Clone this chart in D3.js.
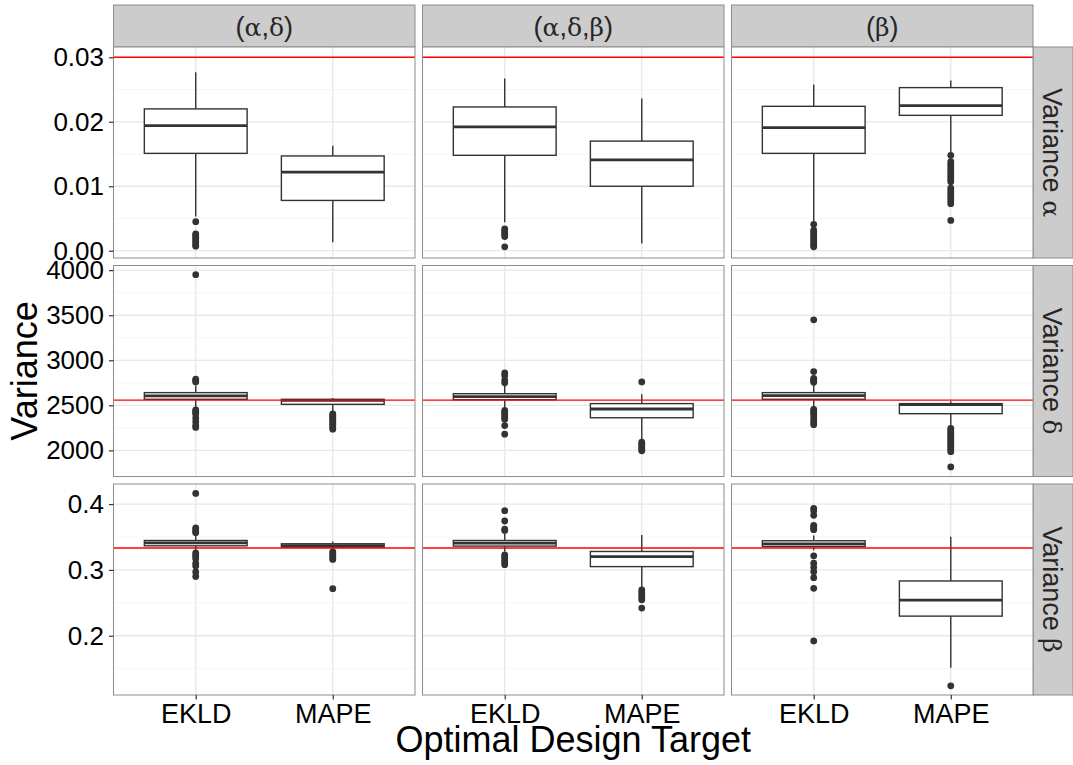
<!DOCTYPE html>
<html>
<head>
<meta charset="utf-8">
<script src="https://cdn.jsdelivr.net/npm/d3@7"></script>
<style>
  body { margin: 0; background: #fff; }
  svg { display: block; }
</style>
</head>
<body>
<svg id="chart" width="1073" height="765"></svg>
<script>
// facet columns / rows
var designs = ["(α,δ)", "(α,δ,β)", "(β)"];
var targets = ["EKLD", "MAPE"];
var rowNames = ["Variance", "Variance", "Variance"];
var rowGreek = ["α", "δ", "β"];
var trueValues = [0.03, 2558, 0.3333];

// y axes per row
var yDomains = [[-0.00113, 0.0316], [1710, 4052], [0.110, 0.4305]];
var yTicks = [[0, 0.01, 0.02, 0.03], [2000, 2500, 3000, 3500, 4000], [0.2, 0.3, 0.4]];
var yTickLabels = [["0.00", "0.01", "0.02", "0.03"], ["2000", "2500", "3000", "3500", "4000"], ["0.2", "0.3", "0.4"]];
var yMinor = [[0.005, 0.015, 0.025], [1750, 2250, 2750, 3250, 3750], [0.15, 0.25, 0.35]];

// [lower whisker, q1, median, q3, upper whisker] for each design -> [EKLD, MAPE]
var alphaBoxes = [
  [[0.0053, 0.0151, 0.0194, 0.0220, 0.0277], [0.0013, 0.0078, 0.0122, 0.0147, 0.0163]],
  [[0.0044, 0.0148, 0.0192, 0.0223, 0.0267], [0.0011, 0.0100, 0.0141, 0.0170, 0.0236]],
  [[0.0044, 0.0151, 0.0191, 0.0224, 0.0258], [0.0151, 0.0210, 0.0225, 0.0253, 0.0264]]
];
var alphaOutliers = [
  [[0.0045, 0.0026, 0.0024, 0.0021, 0.0018, 0.0015, 0.0012, 0.0009, 0.0007], []],
  [[0.0034, 0.0031, 0.0028, 0.0025, 0.0022, 0.0006], []],
  [[0.0041, 0.0032, 0.0029, 0.0026, 0.0023, 0.0020, 0.0017, 0.0014, 0.0011, 0.0008, 0.0006],
   [0.0148, 0.0138, 0.0134, 0.0130, 0.0126, 0.0122, 0.0118, 0.0114, 0.0110, 0.0107,
    0.0097, 0.0093, 0.0089, 0.0085, 0.0081, 0.0077, 0.0073, 0.0047]]
];
var deltaBoxes = [
  [[2480, 2567, 2604, 2641, 2720], [2430, 2511, 2556, 2567, 2581]],
  [[2480, 2562, 2596, 2629, 2720], [2110, 2362, 2459, 2519, 2623]],
  [[2470, 2567, 2608, 2641, 2730], [2262, 2407, 2507, 2519, 2545]]
];
var deltaOutliers = [
  [[3950, 2790, 2775, 2760, 2450, 2435, 2420, 2405, 2360, 2320, 2280, 2255],
   [2405, 2390, 2375, 2360, 2345, 2330, 2310, 2290, 2270, 2250, 2235]],
  [[2860, 2830, 2780, 2750, 2445, 2425, 2405, 2385, 2365, 2345, 2275, 2180],
   [2760, 2090, 2070, 2050, 2030, 2010, 1995]],
  [[3449, 2875, 2800, 2785, 2770, 2755, 2455, 2440, 2420, 2400, 2370, 2340, 2310, 2285],
   [2245, 2225, 2205, 2185, 2165, 2145, 2125, 2105, 2085, 2065, 2045, 2025, 2005, 1985, 1816]]
];
var betaBoxes = [
  [[0.329, 0.3366, 0.3412, 0.3447, 0.3534], [0.331, 0.3347, 0.3370, 0.3397, 0.3432]],
  [[0.328, 0.3362, 0.3408, 0.3447, 0.3550], [0.272, 0.3050, 0.3203, 0.3280, 0.3529]],
  [[0.330, 0.3356, 0.3397, 0.3443, 0.3524], [0.1515, 0.2298, 0.2542, 0.2832, 0.3504]]
];
var betaOutliers = [
  [[0.4162, 0.3637, 0.3610, 0.3585, 0.3565, 0.326, 0.323, 0.320, 0.317, 0.310, 0.306, 0.297, 0.290],
   [0.3275, 0.325, 0.322, 0.319, 0.316, 0.2715]],
  [[0.390, 0.3743, 0.3621, 0.3600, 0.3229, 0.320, 0.317, 0.314, 0.311, 0.308],
   [0.2695, 0.266, 0.262, 0.258, 0.2545, 0.242]],
  [[0.3936, 0.3900, 0.3830, 0.3676, 0.3655, 0.3630, 0.3611, 0.3214, 0.3102, 0.3040, 0.2974, 0.2882, 0.2720, 0.1921],
   [0.1240]]
];

(function(){
  var boxes = [alphaBoxes, deltaBoxes, betaBoxes];
  var outliers = [alphaOutliers, deltaOutliers, betaOutliers];

  // layout
  var panelLeft = 113.5, colW = 301.5, colGap = 7.5;
  var panelTop = 47, rowH = 211, rowGap = 7.5;
  var stripTop = 5, stripRightW = 40;
  var sans = "'Liberation Sans', Arial, Helvetica, sans-serif";
  var greekFont = "'DejaVu Serif', 'Liberation Serif', serif";
  var stripColor = "#262626";

  var svg = d3.select("#chart");

  var x = d3.scalePoint().domain(targets).range([0, colW]).padding(0.6);
  var boxW = x.step() * 0.75;

  function colX(j){ return panelLeft + j * (colW + colGap); }
  function rowY(i){ return panelTop + i * (rowH + rowGap); }

  // greek letters in a serif face, punctuation in sans (like plotmath)
  function addLabel(textSel, str){
    str.split("").forEach(function(ch){
      var isGreek = /[\u0370-\u03ff]/.test(ch);
      textSel.append("tspan")
        .attr("font-family", isGreek ? greekFont : sans)
        .attr("font-size", isGreek ? 25 : 27)
        .text(ch);
    });
  }

  // top strips
  designs.forEach(function(d, j){
    var g = svg.append("g").attr("transform", "translate(" + colX(j) + "," + stripTop + ")");
    g.append("rect").attr("width", colW).attr("height", panelTop - stripTop)
      .attr("fill", "#cccccc").attr("stroke", "#8c8c8c").attr("stroke-width", 1);
    var t = g.append("text").attr("x", colW / 2).attr("y", (panelTop - stripTop) / 2 + 1)
      .attr("text-anchor", "middle").attr("dominant-baseline", "central")
      .attr("font-family", sans).attr("font-size", 27).attr("fill", stripColor);
    addLabel(t, d);
  });

  rowNames.forEach(function(name, i){
    var y = d3.scaleLinear().domain(yDomains[i]).range([rowH, 0]);

    // right strip
    var sx = colX(designs.length - 1) + colW;
    var sg = svg.append("g").attr("transform", "translate(" + sx + "," + rowY(i) + ")");
    sg.append("rect").attr("width", stripRightW).attr("height", rowH)
      .attr("fill", "#cccccc").attr("stroke", "#8c8c8c").attr("stroke-width", 1);
    var st = sg.append("text")
      .attr("transform", "translate(" + (stripRightW / 2 - 1) + "," + (rowH / 2) + ") rotate(90)")
      .attr("text-anchor", "middle").attr("dominant-baseline", "central")
      .attr("font-family", sans).attr("font-size", 27).attr("fill", stripColor);
    addLabel(st, name + " " + rowGreek[i]);

    designs.forEach(function(d, j){
      var g = svg.append("g").attr("transform", "translate(" + colX(j) + "," + rowY(i) + ")");
      g.append("rect").attr("width", colW).attr("height", rowH).attr("fill", "#fff");

      // grid
      g.selectAll(".minor").data(yMinor[i]).enter().append("line")
        .attr("x1", 0).attr("x2", colW).attr("y1", y).attr("y2", y)
        .attr("stroke", "#f4f4f4").attr("stroke-width", 0.8);
      g.selectAll(".major").data(yTicks[i]).enter().append("line")
        .attr("x1", 0).attr("x2", colW).attr("y1", y).attr("y2", y)
        .attr("stroke", "#e8e8e8").attr("stroke-width", 1.3);
      g.selectAll(".vmajor").data(targets).enter().append("line")
        .attr("x1", x).attr("x2", x).attr("y1", 0).attr("y2", rowH)
        .attr("stroke", "#e8e8e8").attr("stroke-width", 1.3);

      // boxplots
      targets.forEach(function(t, k){
        var s = boxes[i][j][k];
        var cx = x(t);
        var bg = g.append("g");
        bg.append("line").attr("x1", cx).attr("x2", cx)
          .attr("y1", y(s[3])).attr("y2", y(s[4]))
          .attr("stroke", "#333").attr("stroke-width", 1.4);
        bg.append("line").attr("x1", cx).attr("x2", cx)
          .attr("y1", y(s[1])).attr("y2", y(s[0]))
          .attr("stroke", "#333").attr("stroke-width", 1.4);
        bg.append("rect").attr("x", cx - boxW / 2).attr("width", boxW)
          .attr("y", y(s[3])).attr("height", y(s[1]) - y(s[3]))
          .attr("fill", "#fff").attr("stroke", "#333").attr("stroke-width", 1.4);
        bg.append("line").attr("x1", cx - boxW / 2).attr("x2", cx + boxW / 2)
          .attr("y1", y(s[2])).attr("y2", y(s[2]))
          .attr("stroke", "#333").attr("stroke-width", 2.8);
        bg.selectAll("circle").data(outliers[i][j][k]).enter().append("circle")
          .attr("cx", cx).attr("cy", y).attr("r", 3.4).attr("fill", "#333");
      });

      // true value
      g.append("line").attr("x1", 0).attr("x2", colW)
        .attr("y1", y(trueValues[i])).attr("y2", y(trueValues[i]))
        .attr("stroke", "#ff0000").attr("stroke-width", 1.4);

      g.append("rect").attr("width", colW).attr("height", rowH)
        .attr("fill", "none").attr("stroke", "#8c8c8c").attr("stroke-width", 1);

      // y axis on first column
      if (j === 0){
        var ax = g.append("g").call(d3.axisLeft(y).tickValues(yTicks[i]).tickSize(4.5).tickPadding(5)
          .tickFormat(function(v, n){ return yTickLabels[i][n]; }));
        ax.select(".domain").remove();
        ax.selectAll("line").attr("stroke", "#333").attr("stroke-width", 1.2);
        ax.selectAll("text").attr("font-family", sans).attr("font-size", 26).attr("fill", "#000");
      }
      // x axis on last row
      if (i === rowNames.length - 1){
        var axb = g.append("g").attr("transform", "translate(0," + rowH + ")")
          .call(d3.axisBottom(x).tickSize(4.5).tickPadding(4));
        axb.select(".domain").remove();
        axb.selectAll("line").attr("stroke", "#333").attr("stroke-width", 1.2);
        axb.selectAll("text").attr("font-family", sans).attr("font-size", 27).attr("fill", "#000");
      }
    });
  });

  // axis titles
  var panelsBottom = rowY(rowNames.length - 1) + rowH;
  svg.append("text")
    .attr("transform", "translate(37," + ((panelTop + panelsBottom) / 2) + ") rotate(-90)")
    .attr("text-anchor", "middle").attr("font-family", sans).attr("font-size", 36).attr("fill", "#000")
    .text("Variance");
  svg.append("text")
    .attr("x", (panelLeft + colX(designs.length - 1) + colW) / 2).attr("y", 752)
    .attr("text-anchor", "middle").attr("font-family", sans).attr("font-size", 36).attr("fill", "#000")
    .text("Optimal Design Target");
})();
</script>
</body>
</html>
